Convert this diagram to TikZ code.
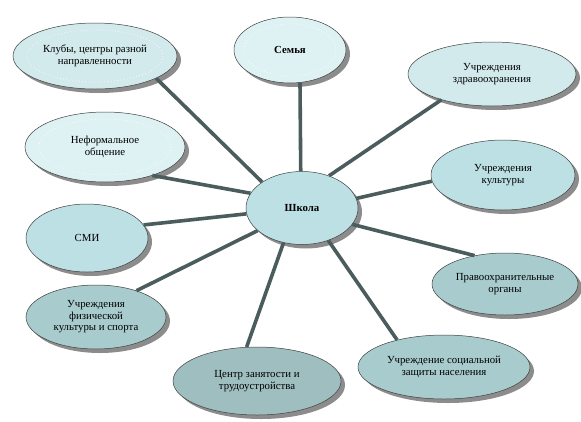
\documentclass[tikz,border=0pt]{standalone}
\usepackage{fontspec}
\setmainfont{Liberation Serif}
\usetikzlibrary{shapes.geometric,shadows}

\definecolor{palecyan}{HTML}{DEF1F3}
\definecolor{lightcyan}{HTML}{D2EAEC}
\definecolor{midcyan}{HTML}{BCE0E4}
\definecolor{greycyan}{HTML}{A8CBCD}
\definecolor{darkcyan}{HTML}{9EBEC0}
\definecolor{linkgrey}{HTML}{4B5C5C}

\tikzset{
  bubble/.style={ellipse, draw=black!75, line width=0.5pt, inner sep=0pt,
    align=center, font=\fontsize{10.8}{11.5}\selectfont,
    drop shadow={shadow xshift=4pt, shadow yshift=-4pt, fill=black!45, opacity=1}},
  ring/.style={white, line width=0.7pt, dash pattern=on 0.7pt off 2.5pt},
  link/.style={line width=3.6pt, color=linkgrey}
}

\begin{document}
\begin{tikzpicture}[x=1pt,y=-1pt]
  \useasboundingbox (0,0) rectangle (581,421);

  % centre
  \node[bubble, fill=midcyan, minimum width=112, minimum height=73,
        font=\fontsize{10.8}{11.5}\selectfont\bfseries] (shkola) at (302,208) {Школа};

  % upper half
  \node[bubble, fill=lightcyan, minimum width=164, minimum height=66] (kluby) at (95,56)
       {Клубы, центры разной\\направленности};
  \node[bubble, fill=palecyan, minimum width=112, minimum height=66,
        font=\fontsize{10.8}{11.5}\selectfont\bfseries] (semja) at (290,50) {Семья};
  \node[bubble, fill=lightcyan, minimum width=168, minimum height=64] (zdrav) at (492,74)
       {Учреждения\\здравоохранения};
  \node[bubble, fill=palecyan, minimum width=160, minimum height=70] (neform) at (105,147)
       {Неформальное\\общение};
  \node[bubble, fill=midcyan, minimum width=144, minimum height=70] (kultura) at (503,175)
       {Учреждения\\культуры};

  % lower half
  \node[bubble, fill=midcyan, minimum width=122, minimum height=68] (smi) at (87,238) {СМИ};
  \node[bubble, fill=greycyan, minimum width=140, minimum height=64] (sport) at (96,317)
       {Учреждения\\физической\\культуры и спорта};
  \node[bubble, fill=darkcyan, minimum width=168, minimum height=68] (zanjat) at (257,381)
       {Центр занятости и\\трудоустройства};
  \node[bubble, fill=greycyan, minimum width=172, minimum height=64] (soczash) at (444,367)
       {Учреждение социальной\\защиты населения};
  \node[bubble, fill=greycyan, minimum width=146, minimum height=62] (pravo) at (505,284)
       {Правоохранительные\\органы};

  % dotted texture on the pale ones
  \foreach \n/\a/\b in {kluby/68/26, neform/66/28, semja/46/26}
    \draw[ring] (\n.center) ellipse [x radius=\a, y radius=\b];

  % connectors
  \draw[link] (shkola.147) -- (kluby.340);
  \draw[link] (shkola.92) -- (semja.287);
  \draw[link] (shkola.50) -- (zdrav.207);
  \draw[link] (shkola.10) -- (kultura.185);
  \draw[link] (shkola.164) -- (neform.329);
  \draw[link] (shkola.186) -- (smi.13);
  \draw[link] (shkola.207) -- (sport.33);
  \draw[link] (shkola.242) -- (zanjat.107);
  \draw[link] (shkola.309) -- (soczash.150);
  \draw[link] (shkola.342) -- (pravo.137);
\end{tikzpicture}
\end{document}
